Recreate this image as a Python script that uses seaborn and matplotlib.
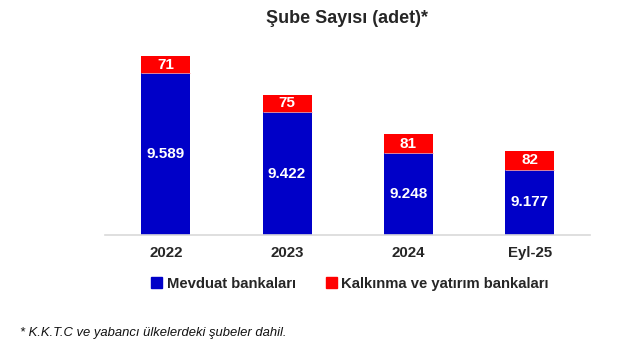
import matplotlib
matplotlib.use("Agg")
import matplotlib.pyplot as plt
import seaborn as sns
import pandas as pd
from matplotlib.patches import Patch

# data
periods = ["2022", "2023", "2024", "Eyl-25"]
mevduat = [9589, 9422, 9248, 9177]
kalkinma = [71, 75, 81, 82]

blue = "#0000C8"
red = "#FF0000"

sns.set_style("white")
plt.rcParams["font.family"] = ["Liberation Sans", "DejaVu Sans"]

df = pd.DataFrame({"donem": periods, "mevduat": mevduat, "kalkinma": kalkinma})
df["toplam"] = df["mevduat"] + df["kalkinma"]

fig = plt.figure(figsize=(6.26, 3.56), dpi=100)
ax = fig.add_axes([0.168, 0.340, 0.775, 0.528])

sns.barplot(data=df, x="donem", y="toplam", color=red, width=0.405,
            saturation=1, ax=ax, linewidth=0)
sns.barplot(data=df, x="donem", y="mevduat", color=blue, width=0.405,
            saturation=1, ax=ax, linewidth=0)

ymin = 8900
ax.set_ylim(ymin, 9700)
ax.set_xlim(-0.5, 3.5)

# thin light line between the two segments
for i, row in df.iterrows():
    ax.plot([i - 0.2025, i + 0.2025], [row["mevduat"], row["mevduat"]],
            color="#ff9a9a", lw=0.6, solid_capstyle="butt")

for i, row in df.iterrows():
    ax.text(i, (ymin + row["mevduat"]) / 2, f"{row['mevduat']:,}".replace(",", "."),
            ha="center", va="center", color="white", fontsize=11, fontweight="bold")
    ax.text(i, row["mevduat"] + row["kalkinma"] / 2, str(row["kalkinma"]),
            ha="center", va="center", color="white", fontsize=11, fontweight="bold")

sns.despine(ax=ax, left=True, top=True, right=True)
ax.spines["bottom"].set_color("#d9d9d9")
ax.spines["bottom"].set_linewidth(1.2)
ax.set_yticks([])
ax.set_xlabel("")
ax.set_ylabel("")
ax.tick_params(axis="x", length=0, pad=8)
for lab in ax.get_xticklabels():
    lab.set_fontweight("bold")
    lab.set_fontsize(10.8)

fig.text(0.555, 0.948, "Şube Sayısı (adet)*", ha="center", va="center",
         fontsize=13, fontweight="bold")

handles = [Patch(color=blue, label="Mevduat bankaları"),
           Patch(color=red, label="Kalkınma ve yatırım bankaları")]
fig.legend(handles=handles, loc="center", bbox_to_anchor=(0.559, 0.202), ncol=2,
           frameon=False, prop={"weight": "bold", "size": 10.7},
           handlelength=0.75, handleheight=0.75, handletextpad=0.3, columnspacing=2.0)

fig.text(0.032, 0.064, "* K.K.T.C ve yabancı ülkelerdeki şubeler dahil.",
         ha="left", va="center", fontsize=9.4, fontstyle="italic", color="#111111")

fig.savefig("out.png", dpi=100, facecolor="white")
